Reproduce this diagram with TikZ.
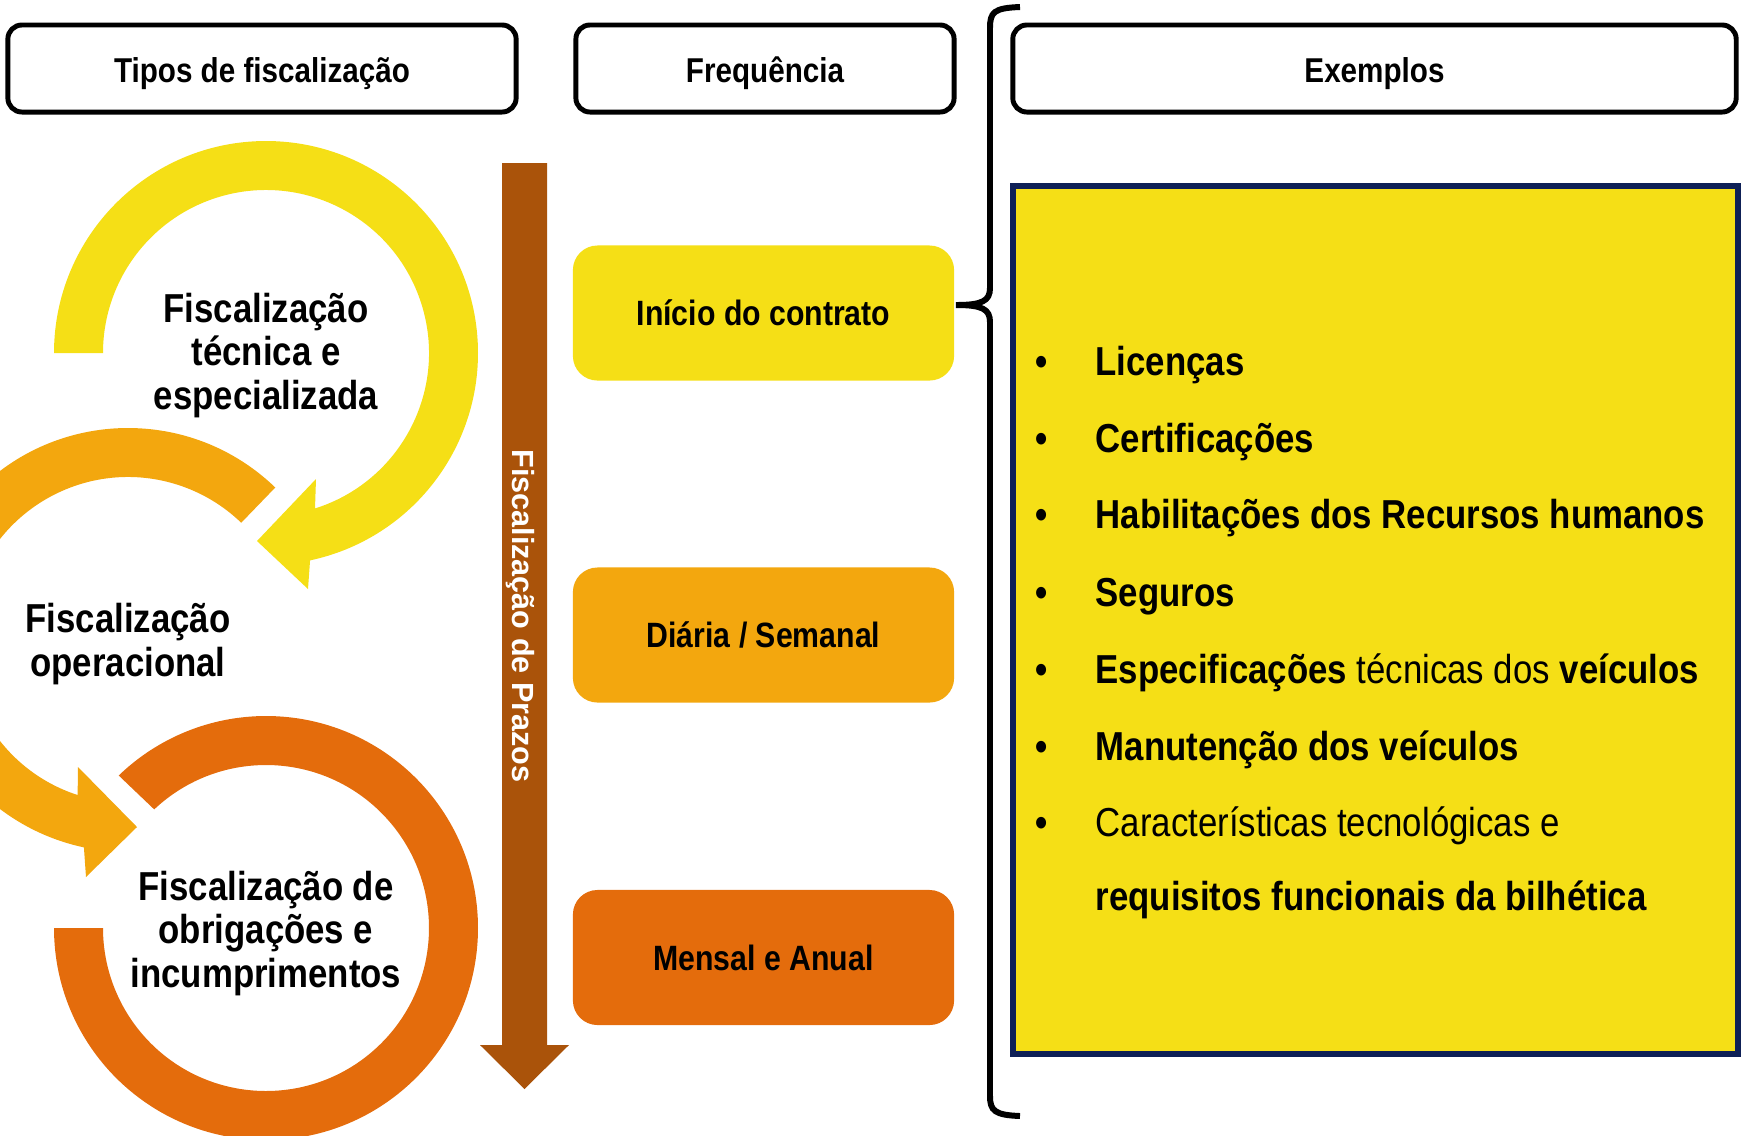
\documentclass[tikz,border=0pt]{standalone}
\usepackage{fontspec}
\setmainfont{Liberation Sans}[FakeStretch=0.86]
\newfontfamily\prazofont{Liberation Sans}
\usetikzlibrary{calc}

\definecolor{ringyellow}{RGB}{245,223,22}
\definecolor{ringorange}{RGB}{243,167,14}
\definecolor{ringdark}{RGB}{228,108,12}
\definecolor{prazobrown}{RGB}{170,83,10}
\definecolor{boxnavy}{RGB}{14,32,86}

\tikzset{
  headbox/.style={draw, line width=1.4pt, rounded corners=4pt, inner sep=0pt,
    minimum height=0.87cm, text height=9.5pt, text depth=1.8pt,
    font={\fontsize{9.8pt}{11pt}\selectfont\bfseries}},
  freqbox/.style={rounded corners=7pt, inner sep=0pt, minimum width=3.81cm,
    minimum height=1.35cm, font={\fontsize{10pt}{12pt}\selectfont\bfseries}},
  ringtext/.style={align=center, inner sep=0pt,
    font={\fontsize{11.5pt}{12.5pt}\selectfont\bfseries}},
  dot/.style={anchor=base, inner sep=0pt, font={\fontsize{11.5pt}{13pt}\selectfont\bfseries}},
  item/.style={anchor=base west, inner sep=0pt, font={\fontsize{11.5pt}{13pt}\selectfont\bfseries}},
}

\begin{document}
\begin{tikzpicture}[x=0.01cm,y=0.01cm]
\useasboundingbox (0,0) rectangle (1741,-1135);

% cabecalhos
\node[headbox, minimum width=5.08cm] (tipos) at (262,-68.5) {Tipos de fiscalização};
\node[headbox, minimum width=3.78cm] (freq) at (765,-68.5) {Frequência};
\node[headbox, minimum width=7.23cm] (exemplos) at (1374.5,-68.5) {Exemplos};

% setas circulares
\coordinate (cy) at (266,-353);
\coordinate (co) at (128,-640);
\coordinate (cd) at (266,-928);
\fill[ringyellow] ($(cy)+(180:212)$) arc (180:-78:212) -- (308,-589) -- (257,-541) -- (316,-479)
  -- ($(cy)+(-72.5:163)$) arc (-72.5:180:163) -- cycle;
\fill[ringorange] ($(co)+(46:212)$) arc (46:258:212) -- (86,-877) -- (137,-827) -- (78,-767)
  -- ($(co)+(252:163)$) arc (252:46:163) -- cycle;
\fill[ringdark] ($(cd)+(180:212)$) arc (180:494:212)
  -- ($(cd)+(493.3:163)$) arc (493.3:180:163) -- cycle;
\node[ringtext] (tecnica) at (266,-355.5) {Fiscalização\\técnica e\\especializada};
\node[ringtext] (operacional) at (128,-644.5) {Fiscalização\\operacional};
\node[ringtext] (obrigacoes) at (266,-933.5) {Fiscalização de\\obrigações e\\incumprimentos};

% seta dos prazos
\fill[prazobrown] (502,-163) -- (547,-163) -- (547,-1045) -- (569,-1045) -- (524.5,-1089)
  -- (480,-1045) -- (502,-1045) -- cycle;
\node[rotate=-90, text=white, inner sep=0pt, font={\prazofont\fontsize{8.7pt}{10pt}\selectfont\bfseries}]
  (prazos) at (520,-616) {Fiscalização de Prazos};

% frequencias
\node[freqbox, fill=ringyellow] (inicio) at (763.5,-313) {Início do contrato};
\node[freqbox, fill=ringorange] (diaria) at (763.5,-635) {Diária / Semanal};
\node[freqbox, fill=ringdark] (mensal) at (763.5,-957.5) {Mensal e Anual};

% chaveta
\coordinate (bracetip) at (956,-305);
\draw[line width=1.7pt] (1020,-7) .. controls (994,-8) and (990,-12) .. (990,-28) -- (990,-288)
  .. controls (990,-301) and (982,-305) .. (bracetip)
  .. controls (982,-305) and (990,-309) .. (990,-322) -- (990,-1096)
  .. controls (990,-1111) and (995,-1115) .. (1020,-1116);

% exemplos
\node[draw=boxnavy, line width=1.6pt, fill=ringyellow, inner sep=0pt,
  minimum width=7.25cm, minimum height=8.68cm] (lista) at (1375.5,-620) {};
\node[dot] (d1) at (1042,-375) {•}; \node[item] (i1) at (1095,-375) {Licenças};
\node[dot] (d2) at (1042,-452) {•}; \node[item] (i2) at (1095,-452) {Certificações};
\node[dot] (d3) at (1042,-528) {•}; \node[item] (i3) at (1095,-528) {Habilitações dos Recursos humanos};
\node[dot] (d4) at (1042,-606) {•}; \node[item] (i4) at (1095,-606) {Seguros};
\node[dot] (d5) at (1042,-683) {•};
\node[item] (i5) at (1095,-683) {Especificações {\mdseries técnicas dos} veículos};
\node[dot] (d6) at (1042,-760) {•}; \node[item] (i6) at (1095,-760) {Manutenção dos veículos};
\node[dot] (d7) at (1042,-836) {•};
\node[item] (i7) at (1095,-836) {\mdseries Características tecnológicas e};
\node[item] (i8) at (1095,-910) {requisitos funcionais da bilhética};
\end{tikzpicture}
\end{document}
